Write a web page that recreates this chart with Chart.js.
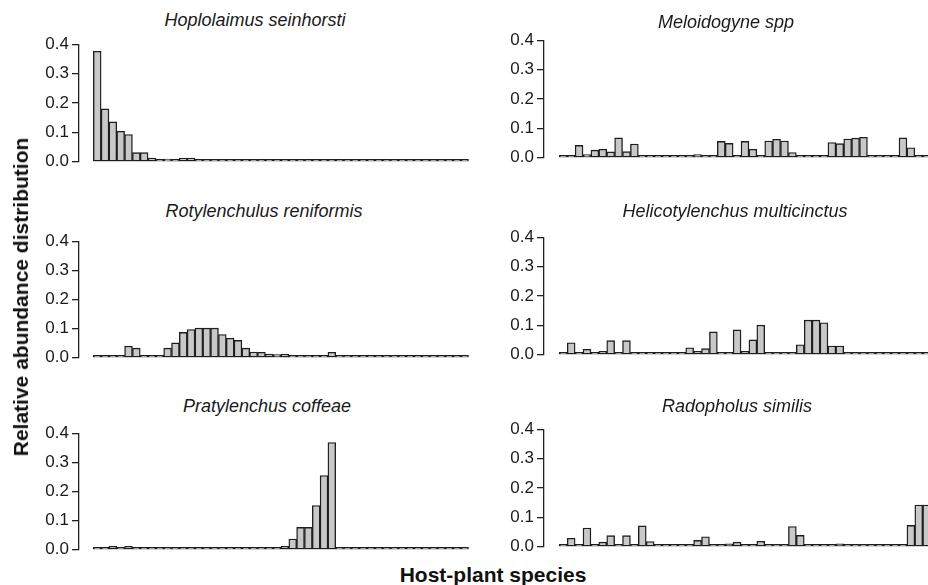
<!DOCTYPE html>
<html><head><meta charset="utf-8">
<script src="https://cdn.jsdelivr.net/npm/chart.js@4"></script>
<style>
html,body{margin:0;padding:0;background:#fff;overflow:hidden;width:928px;height:585px;}
#wrap{position:relative;width:928px;height:585px;overflow:hidden;background:#fff;}
canvas{position:absolute;}
.title{position:absolute;font-family:"Liberation Sans",Arial,sans-serif;font-style:italic;font-size:18px;color:#1a1a1a;transform:translate(-50%,-50%);white-space:nowrap;}
.axl{position:absolute;font-family:"Liberation Sans",Arial,sans-serif;font-weight:bold;font-size:21px;color:#111;white-space:nowrap;transform:translate(-50%,-50%);}
</style></head>
<body><div id="wrap"></div>
<script>
// Host-plant species (48, unlabeled on the axis)
const hostPlants = Array.from({length: 48}, (_, i) => i);
const yTicks = [0.0, 0.1, 0.2, 0.3, 0.4];

const panelTitles = ["Hoplolaimus seinhorsti", "Meloidogyne spp", "Rotylenchulus reniformis",
  "Helicotylenchus multicinctus", "Pratylenchus coffeae", "Radopholus similis"];

const hoplolaimus = [0.376,0.180,0.136,0.104,0.093, 0.031,0.031,0.013,0.004,0.009, 0.004,0.013,0.013,0,0,
  0,0,0,0,0, 0,0,0,0,0, 0,0,0,0,0, 0,0,0,0,0, 0,0,0,0,0, 0,0,0,0,0, 0,0,0];
const meloidogyne = [0,0,0.042,0.011,0.026, 0.029,0.020,0.068,0.021,0.047, 0,0,0,0,0,
  0,0,0.011,0,0, 0.056,0.049,0.006,0.056,0.029, 0,0.057,0.063,0.057,0.018, 0,0,0,0,0.052,
  0.048,0.064,0.067,0.070,0, 0,0,0,0.068,0.034, 0,0,0];
const rotylenchulus = [0,0.002,0.003,0,0.040, 0.033,0.006,0.002,0,0.033, 0.051,0.087,0.097,0.102,0.102,
  0.102,0.080,0.067,0.060,0.033, 0.020,0.019,0.013,0.011,0.013, 0.003,0.008,0.004,0.002,0.008,
  0.019,0.002,0,0.003,0, 0,0,0,0,0, 0,0,0,0,0, 0,0,0];
const helicotylenchus = [0,0.041,0,0.019,0, 0.012,0.048,0,0.048,0, 0,0,0,0,0,
  0,0.024,0.012,0.021,0.078, 0,0.008,0.085,0.012,0.051, 0.101,0,0,0.007,0.006,
  0.034,0.118,0.118,0.109,0.030, 0.030,0.006,0,0,0, 0,0,0,0,0, 0,0,0];
const pratylenchus = [0,0,0.012,0,0.012, 0,0,0,0,0, 0,0,0,0,0,
  0,0,0,0,0, 0,0,0,0,0.012, 0.037,0.077,0.077,0.152,0.255,
  0.368,0,0,0,0, 0,0,0,0,0, 0,0,0,0,0, 0,0,0];
const radopholus = [0.004,0.029,0,0.064,0, 0.016,0.038,0,0.038,0, 0.071,0.018,0,0,0,
  0,0.002,0.022,0.034,0, 0,0.010,0.016,0,0.008, 0.019,0.008,0,0,0.069,
  0.039,0,0,0.003,0, 0.010,0,0,0,0, 0,0,0,0.002,0.073, 0.142,0.142,0];

const wrap = document.getElementById('wrap');
const FONT = '"Liberation Sans", Arial, sans-serif';

function makePanel(values, g){
  const yW = 79, padT = 12, padB = 12;
  const plotW = (g.xMax - g.xMin) * g.pitch;
  const w = Math.ceil(yW + plotW + 4);
  const padR = w - yW - plotW;
  const h = (g.y0 - g.y4) + padT + padB;
  const c = document.createElement('canvas');
  c.width = w; c.height = h;
  c.style.left = (g.axisX - yW) + 'px';
  c.style.top = (g.y4 - padT) + 'px';
  c.style.width = w + 'px'; c.style.height = h + 'px';
  wrap.appendChild(c);
  new Chart(c, {
    type: 'bar',
    data: { datasets: [{
      data: values.map((v, i) => ({x: hostPlants[i], y: v})),
      backgroundColor: '#c8c8c8', borderColor: '#1e1e1e', borderWidth: 1.4,
      borderSkipped: false, barPercentage: 1, categoryPercentage: 1, minBarLength: 2.5
    }]},
    options: {
      responsive: false, animation: false, devicePixelRatio: 1,
      layout: { padding: { top: padT, bottom: padB, left: 0, right: padR } },
      plugins: { legend: {display: false}, tooltip: {enabled: false}, title: {display: false} },
      scales: {
        x: { type: 'linear', display: false, offset: false, min: g.xMin, max: g.xMax },
        y: { min: 0, max: 0.4,
          afterBuildTicks: s => { s.ticks = yTicks.map(v => ({value: v})); },
          ticks: { autoSkip: false, callback: v => Number(v).toFixed(1), font: {family: FONT, size: 17}, color: '#1a1a1a', padding: 3 },
          grid: { display: true, drawOnChartArea: false, drawTicks: true, tickLength: 7, color: '#222', lineWidth: 1.3 },
          border: { display: true, color: '#222', width: 1.3 },
          afterFit: s => { s.width = yW; }
        }
      }
    }
  });
}

const L = { axisX: 79, pitch: 7.82, xMin: -2.33, xMax: 47.5 };
const R = { axisX: 544, pitch: 7.9, xMin: -2.44, xMax: 47.5 };
makePanel(hoplolaimus, Object.assign({}, L, {y4: 43, y0: 163}));
makePanel(meloidogyne, Object.assign({}, R, {y4: 39, y0: 159}));
makePanel(rotylenchulus, Object.assign({}, L, {y4: 240, y0: 359}));
makePanel(helicotylenchus, Object.assign({}, R, {y4: 236, y0: 356}));
makePanel(pratylenchus, Object.assign({}, L, {y4: 432, y0: 551}));
makePanel(radopholus, Object.assign({}, R, {y4: 428, y0: 548}));

const titlePos = [[255,20],[726,22],[264,211],[735,211],[267,406],[737,406]];
panelTitles.forEach((t, i) => {
  const d = document.createElement('div');
  d.className = 'title'; d.textContent = t;
  d.style.left = titlePos[i][0] + 'px'; d.style.top = titlePos[i][1] + 'px';
  wrap.appendChild(d);
});
const yl = document.createElement('div');
yl.className = 'axl'; yl.textContent = 'Relative abundance distribution';
yl.style.left = '21px'; yl.style.top = '297px';
yl.style.transform = 'translate(-50%,-50%) rotate(-90deg)';
wrap.appendChild(yl);
const xl = document.createElement('div');
xl.className = 'axl'; xl.textContent = 'Host-plant species';
xl.style.left = '493px'; xl.style.top = '575px';
wrap.appendChild(xl);
</script>
</body></html>
